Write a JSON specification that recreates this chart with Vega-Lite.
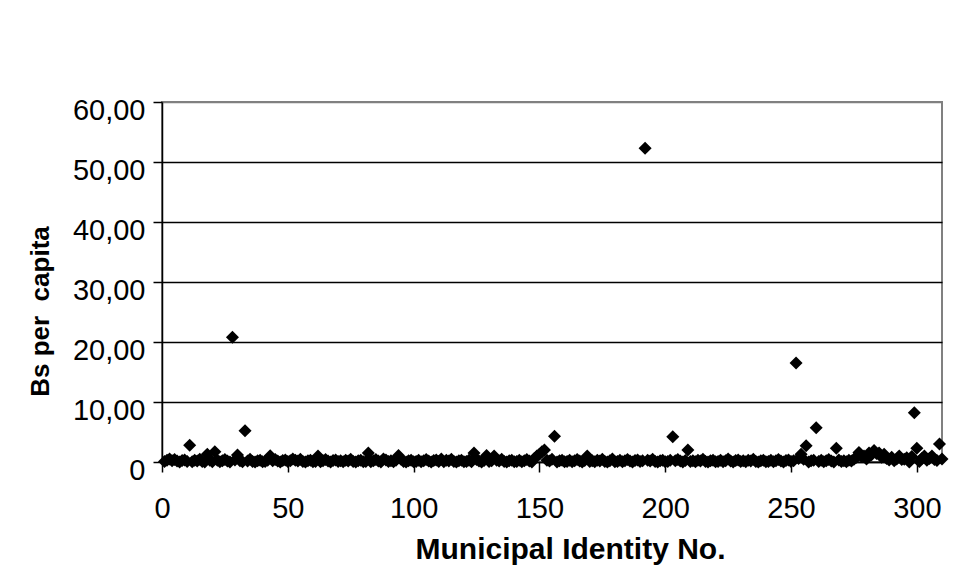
{
"$schema": "https://vega.github.io/schema/vega-lite/v6.json",
"width": 780, "height": 360,
"autosize": {"type": "none"},
"padding": {"left": 162, "top": 102, "right": 25, "bottom": 107},
"background": "white",
"config": {"view": {"stroke": "#808080", "strokeWidth": 2}, "font": "Liberation Sans"},
"data": {"values": [
{"id":1,"v":0.1},{"id":2,"v":0.3},{"id":3,"v":0.5},{"id":4,"v":0.2},{"id":5,"v":0.4},{"id":6,"v":0.15},{"id":7,"v":0},{"id":8,"v":0.25},{"id":9,"v":0.35},{"id":10,"v":0.1},
{"id":11,"v":2.8},{"id":12,"v":0.05},{"id":13,"v":0.3},{"id":14,"v":0.15},{"id":15,"v":0.45},{"id":16,"v":0.1},{"id":17,"v":0},{"id":18,"v":1.3},{"id":19,"v":0.3},{"id":20,"v":0.05},
{"id":21,"v":1.7},{"id":22,"v":0.3},{"id":23,"v":0.05},{"id":24,"v":0.2},{"id":25,"v":0.4},{"id":26,"v":0.15},{"id":27,"v":0},{"id":28,"v":20.8},{"id":29,"v":0.35},{"id":30,"v":1.15},
{"id":31,"v":0.2},{"id":32,"v":0.05},{"id":33,"v":5.2},{"id":34,"v":0.15},{"id":35,"v":0.45},{"id":36,"v":0.1},{"id":37,"v":0},{"id":38,"v":0.2},{"id":39,"v":0.3},{"id":40,"v":0.05},
{"id":41,"v":0.1},{"id":42,"v":0.3},{"id":43,"v":1.05},{"id":44,"v":0.2},{"id":45,"v":0.4},{"id":46,"v":0.15},{"id":47,"v":0},{"id":48,"v":0.25},{"id":49,"v":0.35},{"id":50,"v":0.1},
{"id":51,"v":0.2},{"id":52,"v":0.5},{"id":53,"v":0.3},{"id":54,"v":0.15},{"id":55,"v":0.45},{"id":56,"v":0.1},{"id":57,"v":0},{"id":58,"v":0.2},{"id":59,"v":0.3},{"id":60,"v":0.05},
{"id":61,"v":0.1},{"id":62,"v":1.0},{"id":63,"v":0.05},{"id":64,"v":0.2},{"id":65,"v":0.4},{"id":66,"v":0.15},{"id":67,"v":0},{"id":68,"v":0.25},{"id":69,"v":0.35},{"id":70,"v":0.1},
{"id":71,"v":0.2},{"id":72,"v":0.05},{"id":73,"v":0.3},{"id":74,"v":0.15},{"id":75,"v":0.45},{"id":76,"v":0.1},{"id":77,"v":0},{"id":78,"v":0.2},{"id":79,"v":0.3},{"id":80,"v":0.05},
{"id":81,"v":0.1},{"id":82,"v":1.5},{"id":83,"v":0.05},{"id":84,"v":0.2},{"id":85,"v":0.4},{"id":86,"v":0.15},{"id":87,"v":0},{"id":88,"v":0.5},{"id":89,"v":0.35},{"id":90,"v":0.1},
{"id":91,"v":0.2},{"id":92,"v":0.05},{"id":93,"v":0.3},{"id":94,"v":1.1},{"id":95,"v":0.45},{"id":96,"v":0.1},{"id":97,"v":0},{"id":98,"v":0.2},{"id":99,"v":0.3},{"id":100,"v":0.05},
{"id":101,"v":0.1},{"id":102,"v":0.3},{"id":103,"v":0.05},{"id":104,"v":0.2},{"id":105,"v":0.4},{"id":106,"v":0.15},{"id":107,"v":0},{"id":108,"v":0.25},{"id":109,"v":0.35},{"id":110,"v":0.1},
{"id":111,"v":0.5},{"id":112,"v":0.05},{"id":113,"v":0.3},{"id":114,"v":0.15},{"id":115,"v":0.45},{"id":116,"v":0.1},{"id":117,"v":0},{"id":118,"v":0.2},{"id":119,"v":0.3},{"id":120,"v":0.05},
{"id":121,"v":0.1},{"id":122,"v":0.3},{"id":123,"v":0.05},{"id":124,"v":1.5},{"id":125,"v":0.4},{"id":126,"v":0.15},{"id":127,"v":0},{"id":128,"v":0.25},{"id":129,"v":1.1},{"id":130,"v":0.1},
{"id":131,"v":0.2},{"id":132,"v":1.0},{"id":133,"v":0.3},{"id":134,"v":0.15},{"id":135,"v":0.45},{"id":136,"v":0.1},{"id":137,"v":0},{"id":138,"v":0.2},{"id":139,"v":0.3},{"id":140,"v":0.05},
{"id":141,"v":0.1},{"id":142,"v":0.3},{"id":143,"v":0.05},{"id":144,"v":0.2},{"id":145,"v":0.4},{"id":146,"v":0.15},{"id":147,"v":0},{"id":148,"v":0.6},{"id":149,"v":1.0},{"id":150,"v":1.3},
{"id":151,"v":1.7},{"id":152,"v":2.0},{"id":153,"v":0.3},{"id":154,"v":0.15},{"id":155,"v":0.45},{"id":156,"v":4.3},{"id":157,"v":0},{"id":158,"v":0.2},{"id":159,"v":0.3},{"id":160,"v":0.05},
{"id":161,"v":0.1},{"id":162,"v":0.3},{"id":163,"v":0.05},{"id":164,"v":0.2},{"id":165,"v":0.4},{"id":166,"v":0.15},{"id":167,"v":0},{"id":168,"v":0.25},{"id":169,"v":1.0},{"id":170,"v":0.1},
{"id":171,"v":0.2},{"id":172,"v":0.05},{"id":173,"v":0.3},{"id":174,"v":0.15},{"id":175,"v":0.45},{"id":176,"v":0.1},{"id":177,"v":0},{"id":178,"v":0.2},{"id":179,"v":0.5},{"id":180,"v":0.05},
{"id":181,"v":0.1},{"id":182,"v":0.3},{"id":183,"v":0.05},{"id":184,"v":0.2},{"id":185,"v":0.4},{"id":186,"v":0.15},{"id":187,"v":0},{"id":188,"v":0.25},{"id":189,"v":0.35},{"id":190,"v":0.1},
{"id":191,"v":0.2},{"id":192,"v":52.3},{"id":193,"v":0.3},{"id":194,"v":0.15},{"id":195,"v":0.45},{"id":196,"v":0.1},{"id":197,"v":0},{"id":198,"v":0.2},{"id":199,"v":0.3},{"id":200,"v":0.05},
{"id":201,"v":0.1},{"id":202,"v":0.3},{"id":203,"v":4.2},{"id":204,"v":0.2},{"id":205,"v":0.4},{"id":206,"v":0.15},{"id":207,"v":0},{"id":208,"v":0.25},{"id":209,"v":2.0},{"id":210,"v":0.1},
{"id":211,"v":0.2},{"id":212,"v":0.05},{"id":213,"v":0.3},{"id":214,"v":0.15},{"id":215,"v":0.45},{"id":216,"v":0.1},{"id":217,"v":0},{"id":218,"v":0.2},{"id":219,"v":0.3},{"id":220,"v":0.05},
{"id":221,"v":0.1},{"id":222,"v":0.3},{"id":223,"v":0.05},{"id":224,"v":0.2},{"id":225,"v":0.5},{"id":226,"v":0.15},{"id":227,"v":0},{"id":228,"v":0.25},{"id":229,"v":0.35},{"id":230,"v":0.1},
{"id":231,"v":0.2},{"id":232,"v":0.05},{"id":233,"v":0.3},{"id":234,"v":0.15},{"id":235,"v":0.45},{"id":236,"v":0.1},{"id":237,"v":0},{"id":238,"v":0.2},{"id":239,"v":0.3},{"id":240,"v":0.05},
{"id":241,"v":0.1},{"id":242,"v":0.3},{"id":243,"v":0.05},{"id":244,"v":0.2},{"id":245,"v":0.4},{"id":246,"v":0.15},{"id":247,"v":0},{"id":248,"v":0.25},{"id":249,"v":0.35},{"id":250,"v":0.1},
{"id":251,"v":0.2},{"id":252,"v":16.5},{"id":253,"v":0.6},{"id":254,"v":1.3},{"id":255,"v":0.45},{"id":256,"v":2.7},{"id":257,"v":0},{"id":258,"v":0.2},{"id":259,"v":0.3},{"id":260,"v":5.7},
{"id":261,"v":0.1},{"id":262,"v":0.3},{"id":263,"v":0.05},{"id":264,"v":0.2},{"id":265,"v":0.4},{"id":266,"v":0.15},{"id":267,"v":0},{"id":268,"v":2.3},{"id":269,"v":0.35},{"id":270,"v":0.1},
{"id":271,"v":0.2},{"id":272,"v":0.05},{"id":273,"v":0.3},{"id":274,"v":0.15},{"id":275,"v":0.45},{"id":276,"v":0.8},{"id":277,"v":1.6},{"id":278,"v":0.9},{"id":279,"v":1.0},{"id":280,"v":0.5},
{"id":281,"v":1.5},{"id":282,"v":1.2},{"id":283,"v":1.9},{"id":284,"v":1.4},{"id":285,"v":1.5},{"id":286,"v":0.8},{"id":287,"v":1.3},{"id":288,"v":0.6},{"id":289,"v":0.35},{"id":290,"v":0.8},
{"id":291,"v":0.2},{"id":292,"v":0.5},{"id":293,"v":1.0},{"id":294,"v":0.4},{"id":295,"v":0.45},{"id":296,"v":0.7},{"id":297,"v":0},{"id":298,"v":0.9},{"id":299,"v":8.2},{"id":300,"v":2.3},
{"id":301,"v":0.1},{"id":302,"v":0.6},{"id":303,"v":1.0},{"id":304,"v":0.3},{"id":305,"v":0.6},{"id":306,"v":1.0},{"id":307,"v":0.4},{"id":308,"v":0.25},{"id":309,"v":3.0},{"id":310,"v":0.5}
]},
"mark": {"type": "point", "shape": "diamond", "filled": true, "color": "black", "size": 170, "opacity": 1},
"encoding": {
  "x": {"field": "id", "type": "quantitative",
    "scale": {"domain": [0, 310], "nice": false, "zero": false},
    "axis": {"values": [0, 50, 100, 150, 200, 250, 300], "title": "Municipal Identity No.", "grid": false,
      "domainColor": "black", "domainWidth": 1.5, "tickColor": "black", "tickWidth": 1.5, "tickSize": 10,
      "labelFontSize": 29, "labelColor": "black", "labelPadding": 22, "labelFlush": false,
      "titleFontSize": 30, "titleFontWeight": "bold", "titleColor": "black",
      "titleX": 408, "titleY": 96, "titleBaseline": "alphabetic"}},
  "y": {"field": "v", "type": "quantitative",
    "scale": {"domain": [0, 60], "nice": false},
    "axis": {"values": [0, 10, 20, 30, 40, 50, 60],
      "labelExpr": "datum.value == 0 ? '0' : replace(format(datum.value, '.2f'), '.', ',')",
      "title": "Bs per\u00a0 capita", "grid": true,
      "gridColor": {"condition": {"test": "datum.value == 60", "value": "#808080"}, "value": "black"},
      "gridWidth": 1.3,
      "domainColor": "black", "domainWidth": 1.5, "tickColor": "black", "tickWidth": 1.5, "tickSize": 9,
      "labelFontSize": 29, "labelColor": "black", "labelPadding": 8, "labelOffset": 8,
      "titleFontSize": 26, "titleFontWeight": "bold", "titleColor": "black",
      "titleX": -122, "titleY": 209, "titleBaseline": "middle"}}
}
}
